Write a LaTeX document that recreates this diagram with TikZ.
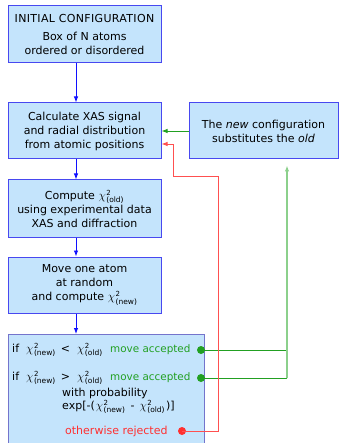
\documentclass[tikz,border=0pt]{standalone}
\usepackage{fontspec}
\setmainfont{DejaVu Sans}
\usetikzlibrary{arrows.meta,calc}
\definecolor{boxfill}{HTML}{C4E4FC}
\definecolor{boxline}{HTML}{4848F0}
\definecolor{boxlineb}{HTML}{7474CC}
\definecolor{arrblue}{HTML}{1010FF}
\definecolor{okgreen}{HTML}{22A022}
\definecolor{palegreen}{HTML}{8CD08C}
\definecolor{rejred}{HTML}{FF3030}
\definecolor{redline}{HTML}{FF5050}
\newcommand\chis[1]{{\fontsize{12.5}{14}\selectfont$\chi$}\kern0.5pt$^{\mbox{\fontsize{7}{7}\selectfont 2}}_{\mbox{\fontsize{7.5}{7.5}\selectfont(#1)}}$}
\tikzset{
  flowbox/.style={draw=boxline, fill=boxfill, line width=1pt, inner sep=0pt,
    align=center, font=\fontsize{11}{14}\selectfont},
  flowarrow/.style={-{Latex[length=6pt,width=4.5pt]}, arrblue, line width=0.9pt},
  txt/.style={inner sep=0pt, anchor=west, font=\fontsize{11}{14}\selectfont},
  acctxt/.style={txt, text=okgreen, font=\fontsize{10.4}{14}\selectfont},
  dotg/.style={circle, fill=okgreen, inner sep=0pt, minimum size=8pt},
  dotr/.style={circle, fill=rejred, inner sep=0pt, minimum size=8pt},
}
\begin{document}
\begin{tikzpicture}[x=1pt,y=-1pt]
\useasboundingbox (0,0) rectangle (341,443);
\node[flowbox, minimum width=153pt, minimum height=57pt] (b1) at (84.5,34.5)
  {{\addfontfeature{LetterSpace=3}INITIAL CONFIGURATION}\\[4pt]Box of N atoms\\ordered or disordered};
\node[flowbox, minimum width=153pt, minimum height=56pt] (b2) at (84.5,131)
  {Calculate XAS signal\\and radial distribution\\from atomic positions};
\node[flowbox, minimum width=149pt, minimum height=56pt] (bn) at (263.5,131)
  {The \textit{new} configuration\\substitutes the \textit{old}};
\node[flowbox, minimum width=153pt, minimum height=57pt] (b3) at (84.5,208.5)
  {Compute \chis{old}\\using experimental data\\XAS and diffraction};
\node[flowbox, minimum width=153pt, minimum height=56pt] (b4) at (84.5,285)
  {Move one atom\\at random\\and compute \chis{new}};
\node[flowbox, draw=boxlineb, minimum width=196pt, minimum height=120pt, anchor=north west] (b5) at (8,334) {};
\coordinate (ax) at (76,0);
\draw[flowarrow] (b1.south -| ax) -- (b2.north -| ax);
\draw[flowarrow] (b2.south -| ax) -- (b3.north -| ax);
\draw[flowarrow] (b3.south -| ax) -- (b4.north -| ax);
\draw[flowarrow] (b4.south -| ax) -- (b5.north -| ax);
% box 5 texts
\node[txt] (l1) at (12,350) {\makebox[14pt][l]{if}\chis{new}\hspace{5pt}<\hspace{7pt}\chis{old}};
\node[acctxt] (l1b) at (110,350) {move accepted};
\node[txt] (l2) at (12,378) {\makebox[14pt][l]{if}\chis{new}\hspace{5pt}>\hspace{7pt}\chis{old}};
\node[acctxt] (l2b) at (110,378) {move accepted};
\node[txt] (l3) at (62,393) {with probability};
\node[txt] (l4) at (62,407) {exp[-(\kern1pt\chis{new}\hspace{5pt}-\hspace{5pt}\chis{old}\kern1pt)]};
\node[txt, text=rejred] (l5) at (65,431) {otherwise rejected};
\node[dotg] (g1) at (201,350) {};
\node[dotg] (g2) at (201,378) {};
\node[dotr] (r1) at (182,431) {};
\coordinate (gv) at (287,0);
\draw[okgreen, line width=0.9pt] (g1.center) -- (g1 -| gv);
\draw[okgreen, line width=0.9pt] (g2.center) -- (g2 -| gv);
\draw[palegreen, line width=1.1pt, -{Latex[length=6pt,width=4.5pt]}, shorten >=6pt] (g1 -| gv) -- (g2 -| gv) -- (bn.south -| gv);
\draw[okgreen, line width=0.9pt, -{Latex[length=6pt,width=4.5pt]}] (bn.west) -- (bn.west -| b2.east);
\coordinate (rx1) at (218,176);
\coordinate (rx2) at (173,144);
\draw[redline, line width=0.9pt, -{Latex[length=6pt,width=4.5pt]}] (r1.center) -- (r1 -| rx1) -- (rx1) -- (rx1 -| rx2) -- (rx2) -- (rx2 -| b2.east);
\end{tikzpicture}
\end{document}
